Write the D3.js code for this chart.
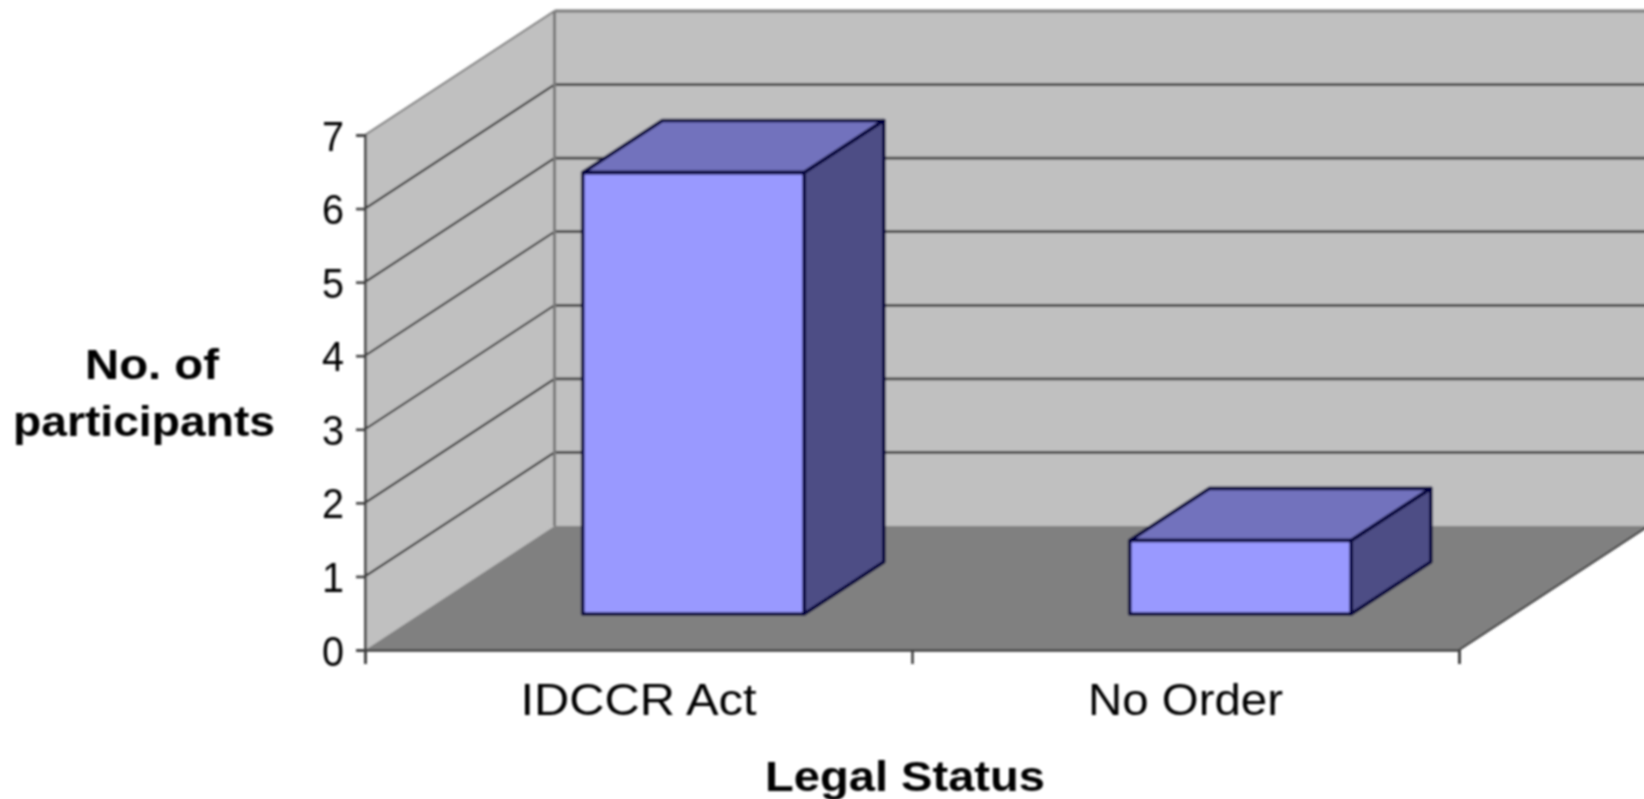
<!DOCTYPE html>
<html>
<head>
<meta charset="utf-8">
<script src="https://cdnjs.cloudflare.com/ajax/libs/d3/7.8.5/d3.min.js"></script>
<style>
html,body{margin:0;padding:0;background:#fff;overflow:hidden}
svg{display:block}
text{font-family:"Liberation Sans",Arial,sans-serif;fill:#000}
</style>
</head>
<body>
<svg id="chart" width="1644" height="799"></svg>
<script>
const categories = ["IDCCR Act", "No Order"];
const values = [6, 1];
const yTickLabels = [0, 1, 2, 3, 4, 5, 6, 7];
const yTitleLines = ["No. of", "participants"];
const xTitle = "Legal Status";

const svg = d3.select("#chart");
const defs = svg.append("defs");
defs.append("filter").attr("id", "soft")
  .attr("x", "-2%").attr("y", "-2%").attr("width", "104%").attr("height", "104%")
  .append("feGaussianBlur").attr("stdDeviation", 0.8);
const root = svg.append("g").attr("filter", "url(#soft)");

const x = d3.scaleBand().domain(categories).range([365, 1459]);
const y = d3.scaleLinear().domain([0, 7]).range([650, 135]);
const depth = {dx: 189.5, dy: -124};
const barNear = 0.29, barFar = 0.71, barFrac = 0.405;

// project a point (chart x, value, depth fraction) onto the page
const P = (px, v, d) => [px + depth.dx * d, y(v) + depth.dy * d];
const poly = pts => pts.map(p => p.join(",")).join(" ");
const [x0, x1] = x.range();
const [v0, v7] = y.domain();

// walls and floor
root.append("polygon").attr("fill", "#c0c0c0")
  .attr("points", poly([P(x0, v0, 0), P(x0, v7, 0), P(x0, v7, 1), P(x0, v0, 1)]));
root.append("polygon").attr("fill", "#c0c0c0")
  .attr("points", poly([P(x0, v0, 1), P(x0, v7, 1), P(x1, v7, 1), P(x1, v0, 1)]));
root.append("polygon").attr("fill", "#808080")
  .attr("points", poly([P(x0, v0, 0), P(x0, v0, 1), P(x1, v0, 1), P(x1, v0, 0)]));

// gridlines on both walls
const line = (a, b, stroke, w) => root.append("line")
  .attr("x1", a[0]).attr("y1", a[1]).attr("x2", b[0]).attr("y2", b[1])
  .attr("stroke", stroke).attr("stroke-width", w);
y.ticks(7).filter(v => v > 0).forEach(v => {
  line(P(x0, v, 0), P(x0, v, 1), v === 7 ? "#7a7a7a" : "#1c1c1c", 2);
  line(P(x0, v, 1), P(x1, v, 1), v === 7 ? "#7a7a7a" : "#3c3c3c", 2.8);
});
line(P(x0, v0, 1), P(x0, v7, 1), "#7a7a7a", 3);
line(P(x1, v0, 0), P(x1, v0, 1), "#303030", 2);

// bars
const bars = root.selectAll("g.bar").data(categories.map((c, i) => ({c, v: values[i]})))
  .join("g").attr("class", "bar")
  .attr("stroke", "#00003c").attr("stroke-width", 3.6).attr("stroke-linejoin", "round");
const left = d => x(d.c) + (x.bandwidth() - x.bandwidth() * barFrac) / 2;
const right = d => left(d) + x.bandwidth() * barFrac;
bars.append("polygon").attr("fill", "#7272bd")
  .attr("points", d => poly([P(left(d), d.v, barNear), P(left(d), d.v, barFar), P(right(d), d.v, barFar), P(right(d), d.v, barNear)]));
bars.append("polygon").attr("fill", "#4e4e85")
  .attr("points", d => poly([P(right(d), 0, barNear), P(right(d), d.v, barNear), P(right(d), d.v, barFar), P(right(d), 0, barFar)]));
bars.append("polygon").attr("fill", "#9999ff")
  .attr("points", d => poly([P(left(d), 0, barNear), P(left(d), d.v, barNear), P(right(d), d.v, barNear), P(right(d), 0, barNear)]));

// y axis
const yAxis = root.append("g").attr("transform", `translate(${x0},0)`)
  .call(d3.axisLeft(y).tickValues(yTickLabels).tickFormat(d3.format("d")).tickSize(9).tickPadding(12));
yAxis.selectAll("path,line").attr("stroke", "#404040").attr("stroke-width", 2.6);
yAxis.selectAll("text").attr("font-size", 43).attr("dy", 15)
  .attr("textLength", 22).attr("lengthAdjust", "spacingAndGlyphs")
  .style("font-family", '"Liberation Sans",Arial,sans-serif').style("fill", "#000");

// x axis: ticks on band edges, labels at band centres
const xEdges = d3.scaleLinear().domain([0, categories.length]).range(x.range());
const xTicks = root.append("g").attr("transform", `translate(0,${y(0)})`)
  .call(d3.axisBottom(xEdges).tickValues(d3.range(categories.length + 1)).tickFormat("").tickSize(14));
xTicks.selectAll("path,line").attr("stroke", "#404040").attr("stroke-width", 2.6);
const xLabelWidth = {"IDCCR Act": 236, "No Order": 195};
const xLabels = root.append("g").attr("transform", `translate(0,${y(0)})`)
  .call(d3.axisBottom(x).tickSize(0).tickPadding(0));
xLabels.select("path").remove();
xLabels.selectAll("text").attr("font-size", 44).attr("y", 65).attr("dy", 0)
  .attr("textLength", d => xLabelWidth[d]).attr("lengthAdjust", "spacingAndGlyphs")
  .style("font-family", '"Liberation Sans",Arial,sans-serif').style("fill", "#000");

// titles
const title = (t, cx, base, w) => root.append("text")
  .attr("x", cx).attr("y", base).attr("text-anchor", "middle")
  .attr("font-size", 43).attr("font-weight", "bold")
  .attr("textLength", w).attr("lengthAdjust", "spacingAndGlyphs").text(t);
title(yTitleLines[0], 152, 379, 134);
title(yTitleLines[1], 144, 436, 262);
title(xTitle, 905, 791, 280);
</script>
</body>
</html>
